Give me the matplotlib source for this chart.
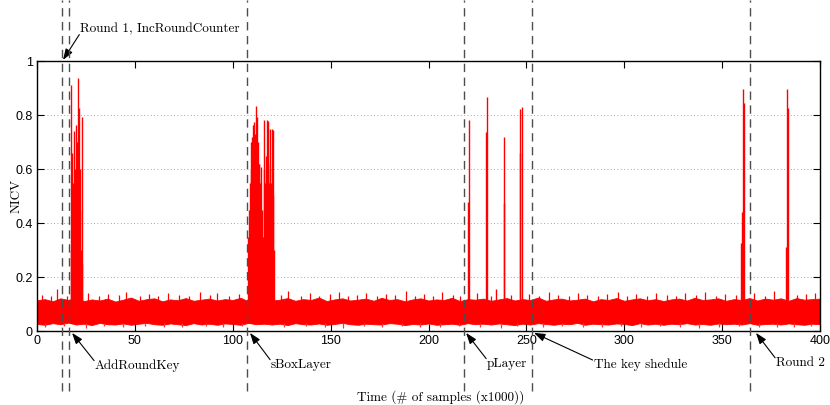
import matplotlib
matplotlib.use('Agg')
import matplotlib.pyplot as plt
import matplotlib.transforms as mtransforms
import numpy as np

# noise floor envelope, read every 4 (x1000 samples)
band_x = list(range(0, 401, 4))
band_upper = [0.114, 0.118, 0.110, 0.121, 0.115, 0.123, 0.111, 0.117, 0.113, 0.120,
              0.109, 0.116, 0.124, 0.112, 0.118, 0.121, 0.110, 0.117, 0.114, 0.122,
              0.112, 0.116, 0.120, 0.113, 0.118, 0.115, 0.123, 0.110, 0.117, 0.120,
              0.113, 0.116, 0.122, 0.112, 0.118, 0.115, 0.124, 0.111, 0.117, 0.121,
              0.113, 0.116, 0.120, 0.112, 0.123, 0.115, 0.118, 0.110, 0.117, 0.121,
              0.113, 0.117, 0.115, 0.123, 0.111, 0.118, 0.116, 0.120, 0.112, 0.117,
              0.122, 0.113, 0.118, 0.115, 0.124, 0.112, 0.117, 0.120, 0.113, 0.116,
              0.120, 0.110, 0.118, 0.115, 0.122, 0.112, 0.117, 0.121, 0.114, 0.118,
              0.111, 0.117, 0.120, 0.113, 0.123, 0.115, 0.117, 0.121, 0.112, 0.118,
              0.115, 0.122, 0.113, 0.120, 0.116, 0.121, 0.112, 0.122, 0.116, 0.118, 0.120]
band_lower = [0.026, 0.023, 0.029, 0.025, 0.031, 0.024, 0.027, 0.022, 0.030, 0.025,
              0.024, 0.028, 0.023, 0.027, 0.030, 0.025, 0.023, 0.028, 0.025, 0.022,
              0.029, 0.024, 0.027, 0.023, 0.028, 0.026, 0.023, 0.030, 0.025, 0.027,
              0.024, 0.027, 0.022, 0.029, 0.025, 0.024, 0.028, 0.023, 0.026, 0.030,
              0.025, 0.023, 0.027, 0.025, 0.024, 0.029, 0.027, 0.022, 0.026, 0.024,
              0.028, 0.023, 0.025, 0.027, 0.023, 0.029, 0.025, 0.027, 0.024, 0.028,
              0.025, 0.022, 0.027, 0.024, 0.029, 0.026, 0.023, 0.027, 0.025, 0.030,
              0.023, 0.027, 0.025, 0.024, 0.028, 0.026, 0.022, 0.029, 0.024, 0.027,
              0.023, 0.027, 0.025, 0.029, 0.024, 0.026, 0.023, 0.028, 0.025, 0.027,
              0.024, 0.029, 0.023, 0.026, 0.027, 0.024, 0.028, 0.025, 0.023, 0.027, 0.025]

# isolated noise peaks above the floor and dips below it
noise_peak_x = [2.5, 7.1, 10.4, 15.4, 26.3, 31.7, 36.2, 41.9, 45.5, 52.8, 57.3, 61.6,
                66.9, 72.4, 77.8, 83.1, 88.6, 92.2, 97.9, 103.4, 124.7, 128.3, 134.8,
                139.5, 144.1, 149.7, 154.3, 158.8, 163.6, 168.2, 173.9, 178.4, 183.0,
                188.7, 193.3, 197.8, 202.5, 207.1, 212.6, 216.2, 224.8, 232.1, 242.3,
                251.5, 256.2, 261.8, 266.4, 271.9, 276.5, 281.2, 286.8, 291.3, 296.9,
                301.4, 306.1, 311.7, 316.2, 321.8, 326.5, 331.1, 336.7, 341.2, 346.8,
                351.4, 356.9, 366.3, 371.8, 376.4, 388.5, 393.1, 397.6]
noise_peak_y = [0.135, 0.128, 0.157, 0.131, 0.142, 0.129, 0.138, 0.133, 0.146, 0.130,
                0.137, 0.128, 0.141, 0.134, 0.129, 0.144, 0.132, 0.139, 0.130, 0.136,
                0.133, 0.150, 0.131, 0.140, 0.128, 0.137, 0.145, 0.130, 0.135, 0.142,
                0.129, 0.138, 0.133, 0.147, 0.131, 0.136, 0.129, 0.143, 0.134, 0.130,
                0.139, 0.131, 0.132, 0.137, 0.130, 0.144, 0.133, 0.128, 0.141, 0.135,
                0.130, 0.138, 0.146, 0.131, 0.136, 0.129, 0.142, 0.134, 0.130, 0.139,
                0.133, 0.145, 0.128, 0.137, 0.132, 0.140, 0.131, 0.147, 0.134, 0.138, 0.142]
noise_dip_x = [4.2, 13.6, 24.8, 34.1, 43.7, 55.2, 64.9, 74.3, 86.5, 95.1, 104.8,
               126.4, 137.2, 146.9, 156.3, 166.8, 176.1, 186.5, 195.7, 205.9, 215.4,
               226.2, 236.8, 245.1, 258.7, 268.3, 278.9, 288.4, 298.2, 308.6, 318.1,
               328.7, 338.4, 348.2, 358.6, 368.9, 378.2, 386.7, 395.3]
noise_dip_y = [0.015, 0.018, 0.012, 0.017, 0.014, 0.019, 0.013, 0.016, 0.018, 0.014,
               0.017, 0.013, 0.018, 0.015, 0.012, 0.017, 0.014, 0.019, 0.015, 0.013,
               0.018, 0.016, 0.012, 0.017, 0.014, 0.018, 0.015, 0.013, 0.017, 0.014,
               0.019, 0.015, 0.012, 0.016, 0.018, 0.013, 0.016, 0.014, 0.017]

# leakage peaks (x1000 samples, NICV)
spike_x = [17.2, 17.5, 17.8, 18.0, 18.4, 18.7, 19.0, 19.4, 19.7, 20.1, 20.4, 20.7,
           21.0, 21.5, 21.8, 22.1, 22.5, 22.8, 23.1,
           108.0, 108.5, 108.8, 109.2, 109.5, 109.7, 110.0, 110.2, 110.6, 110.9,
           111.2, 111.4, 111.7, 112.0, 112.2, 112.6, 112.9, 113.2, 113.6, 114.0,
           114.4, 114.8, 115.6, 115.9, 116.1, 116.4, 116.8, 117.3, 117.6, 117.9,
           118.2, 118.5, 118.8, 119.0, 119.3, 119.6, 119.9, 120.2, 120.4, 120.7, 121.1,
           220.4, 220.9, 229.3, 229.7, 234.6, 238.5, 238.7, 246.7, 246.9, 247.8,
           359.8, 360.2, 360.5, 361.3, 382.6, 383.0, 383.7]
spike_y = [0.30, 0.911, 0.45, 0.66, 0.55, 0.742, 0.40, 0.60, 0.35, 0.763, 0.70, 0.936,
           0.50, 0.827, 0.45, 0.60, 0.30, 0.794, 0.25,
           0.35, 0.45, 0.55, 0.60, 0.70, 0.72, 0.65, 0.763, 0.70, 0.775,
           0.68, 0.73, 0.833, 0.70, 0.794, 0.66, 0.70, 0.62, 0.62, 0.55,
           0.608, 0.45, 0.35, 0.60, 0.781, 0.55, 0.65, 0.781, 0.58, 0.62,
           0.779, 0.55, 0.60, 0.75, 0.50, 0.55, 0.747, 0.45, 0.50, 0.744, 0.30,
           0.479, 0.781, 0.738, 0.868, 0.155, 0.474, 0.72, 0.66, 0.822, 0.828,
           0.325, 0.442, 0.895, 0.843, 0.312, 0.895, 0.825]

# dashed markers and their labels
marker_x = [12.8, 16.3, 107.3, 218.1, 252.9, 364.2]
labels = ['Round 1, IncRoundCounter', 'AddRoundKey', 'sBoxLayer', 'pLayer',
          'The key shedule', 'Round 2']
label_tip = [(13.3, 1.004), (17.9, -0.007), (108.8, -0.007), (219.2, -0.007),
             (253.9, -0.007), (367.3, -0.007)]
label_pos = [(22.0, 1.118), (29.6, -0.130), (119.5, -0.126), (229.9, -0.122),
             (284.5, -0.126), (377.5, -0.119)]

serif = ['cmr10', 'DejaVu Serif']
sans = ['Liberation Sans', 'DejaVu Sans']

fig = plt.figure(figsize=(8.3, 4.05), dpi=100)
ax = fig.add_axes([37 / 830, 74 / 405, 783 / 830, 270 / 405])

ax.fill_between(band_x, band_lower, band_upper, color='#ff0000', lw=0.6, edgecolor='#ff0000')
ax.vlines(noise_peak_x, 0.1, noise_peak_y, color='#ff0000', lw=0.9)
ax.vlines(noise_dip_x, noise_dip_y, 0.03, color='#ff3030', lw=0.9)
ax.vlines(spike_x, 0.03, spike_y, color='#ff0000', lw=1.0)

ax.set_xlim(0, 400)
ax.set_ylim(0, 1)
ax.set_xticks(np.arange(0, 401, 50))
ax.set_yticks([0, 0.2, 0.4, 0.6, 0.8, 1])
ax.set_yticklabels(['0', '0.2', '0.4', '0.6', '0.8', '1'])
ax.tick_params(direction='in', top=True, right=True, length=5, width=0.8,
               labelsize=9, pad=3)
for lab in ax.get_xticklabels() + ax.get_yticklabels():
    lab.set_family(sans)
ax.yaxis.grid(True, linestyle=(0, (1, 3)), color='0.55', lw=0.6)
for sp in ax.spines.values():
    sp.set_linewidth(1.0)

# dashed lines run past the axes
trans = mtransforms.blended_transform_factory(ax.transData, fig.transFigure)
for mx in marker_x:
    ax.plot([mx, mx], [0.035, 1.0], transform=trans, clip_on=False,
            color='0.3', lw=1.0, dashes=(6, 4), zorder=5)

for i, txt in enumerate(labels):
    relpos = (0, 0.15) if i == 0 else (0, 0.85)
    ax.annotate(txt, xy=label_tip[i], xytext=label_pos[i], xycoords='data',
                textcoords='data', ha='left', va='center', fontsize=9.5,
                family=serif, annotation_clip=False,
                arrowprops=dict(arrowstyle='-|>,head_length=0.7,head_width=0.25',
                                color='black', lw=0.8, relpos=relpos,
                                patchA=None, shrinkA=1, shrinkB=0))

fig.text(441 / 830, 1 - 397 / 405, 'Time (# of samples (x1000))', ha='center',
         va='center', fontsize=9.5, family=serif)
fig.text(17 / 830, 1 - 196 / 405, 'NICV', ha='center', va='center', rotation=90,
         fontsize=9.5, family=serif)

fig.savefig('out.png', dpi=100)
